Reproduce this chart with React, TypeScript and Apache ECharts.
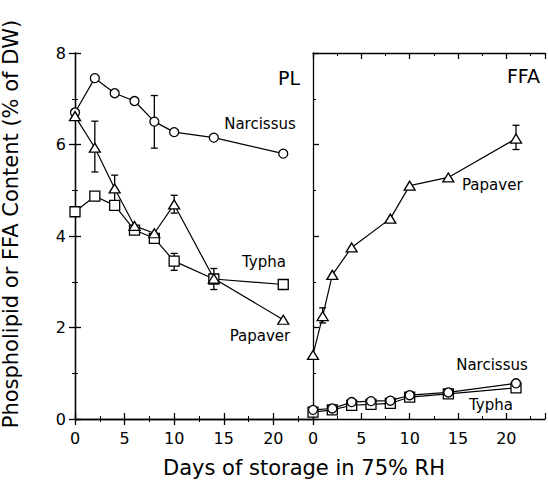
import React, { useEffect, useRef } from "react";
import * as echarts from "echarts";

// ---- Data ----
const plDays = [0, 2, 4, 6, 8, 10, 14, 21];
const plNarcissus = [6.7, 7.45, 7.12, 6.95, 6.5, 6.27, 6.15, 5.8];
const plPapaver = [6.62, 5.93, 5.04, 4.22, 4.06, 4.69, 3.07, 2.17];
const plTypha = [4.53, 4.87, 4.67, 4.13, 3.95, 3.45, 3.06, 2.94];

const ffaDays = [0, 2, 4, 6, 8, 10, 14, 21];
const ffaNarcissus = [0.2, 0.23, 0.37, 0.39, 0.4, 0.52, 0.58, 0.78];
const ffaTypha = [0.15, 0.2, 0.3, 0.32, 0.34, 0.48, 0.55, 0.68];
const ffaPapaverDays = [0, 1, 2, 4, 8, 10, 14, 21];
const ffaPapaver = [1.4, 2.25, 3.15, 3.75, 4.38, 5.1, 5.28, 6.13];

// error bars: [day, low, high]
const plErrors = [
  [8, 5.92, 7.07],
  [2, 5.4, 6.51],
  [4, 4.75, 5.33],
  [10, 4.5, 4.89],
  [14, 2.83, 3.29],
  [10, 3.25, 3.62],
];
const ffaErrors = [
  [21, 5.89, 6.42],
  [1, 2.1, 2.43],
];

const xTicks = [0, 5, 10, 15, 20];
const yTicks = [0, 2, 4, 6, 8];

const FONT = "DejaVu Sans";

function pairs(xs: number[], ys: number[]) {
  return xs.map((x, i) => [x, ys[i]]);
}

export default function App() {
  const ref = useRef<HTMLDivElement>(null);
  useEffect(() => {
    if (!ref.current) return;
    const chart = echarts.init(ref.current, undefined, { renderer: "svg" });
    const lineW = 1.3;
    const axisLine = { show: true, lineStyle: { color: "#000", width: lineW } };
    const xBase = (gridIndex: number, position: string, labels: boolean) => ({
      type: "value",
      gridIndex,
      position,
      min: xTicks[0],
      max: 24,
      interval: xTicks[1] - xTicks[0],
      axisLine,
      axisTick: { show: true, inside: true, length: 6, lineStyle: { color: "#000", width: lineW } },
      minorTick: { show: true, splitNumber: 2, length: 3, lineStyle: { color: "#000", width: 1 } },
      splitLine: { show: false },
      axisLabel: {
        show: labels,
        color: "#000",
        fontFamily: FONT,
        fontSize: 16,
        margin: 11,
        formatter: (v: number) => (xTicks.includes(v) ? String(v) : ""),
      },
    });
    const yBase = (gridIndex: number, position: string, labels: boolean) => ({
      type: "value",
      gridIndex,
      position,
      min: yTicks[0],
      max: yTicks[yTicks.length - 1],
      interval: yTicks[1] - yTicks[0],
      axisLine,
      axisTick: { show: true, inside: true, length: 6, lineStyle: { color: "#000", width: lineW } },
      minorTick: { show: true, splitNumber: 2, length: 3, lineStyle: { color: "#000", width: 1 } },
      splitLine: { show: false },
      axisLabel: { show: labels, color: "#000", fontFamily: FONT, fontSize: 16, margin: 9 },
    });

    const lineSeries = (name: string, data: number[][], xi: number, yi: number, symbol: string, size: any) => ({
      type: "line",
      name,
      xAxisIndex: xi,
      yAxisIndex: yi,
      data,
      symbol,
      symbolSize: size,
      showAllSymbol: true,
      z: 3,
      lineStyle: { color: "#000", width: 1.2 },
      itemStyle: { color: "#fff", borderColor: "#000", borderWidth: 1.3 },
      emphasis: { disabled: true },
    });

    const errSeries = (data: number[][], xi: number, yi: number) => ({
      type: "custom",
      xAxisIndex: xi,
      yAxisIndex: yi,
      z: 1,
      data,
      renderItem: (params: any, api: any) => {
        const x = api.value(0);
        const lo = api.coord([x, api.value(1)]);
        const hi = api.coord([x, api.value(2)]);
        const w = 3.5;
        const st = { stroke: "#000", lineWidth: 1.3 };
        return {
          type: "group",
          children: [
            { type: "line", shape: { x1: lo[0], y1: lo[1], x2: hi[0], y2: hi[1] }, style: st },
            { type: "line", shape: { x1: lo[0] - w, y1: lo[1], x2: lo[0] + w, y2: lo[1] }, style: st },
            { type: "line", shape: { x1: hi[0] - w, y1: hi[1], x2: hi[0] + w, y2: hi[1] }, style: st },
          ],
        };
      },
    });

    const txt = (text: string, x: number, y: number, size: number, align = "center", rotation = 0) => ({
      type: "text",
      x,
      y,
      rotation,
      z: 10,
      style: {
        text,
        fill: "#000",
        font: `${size}px "${FONT}"`,
        fontSize: size,
        fontFamily: FONT,
        align,
        verticalAlign: "middle",
        textAlign: align,
        textVerticalAlign: "middle",
      },
    });

    chart.setOption({
      animation: false,
      backgroundColor: "#fff",
      grid: [
        { left: 75, top: 53, width: 238, height: 366 },
        { left: 313, top: 53, width: 239, height: 366 },
      ],
      xAxis: [
        xBase(0, "bottom", true),
        xBase(0, "top", false),
        xBase(1, "bottom", true),
        xBase(1, "top", false),
      ],
      yAxis: [
        yBase(0, "left", true),
        yBase(0, "right", false),
        yBase(1, "left", false),
      ],
      series: [
        errSeries(plErrors, 0, 0),
        errSeries(ffaErrors, 2, 2),
        lineSeries("Narcissus PL", pairs(plDays, plNarcissus), 0, 0, "circle", 9),
        lineSeries("Typha PL", pairs(plDays, plTypha), 0, 0, "rect", 10),
        lineSeries("Papaver PL", pairs(plDays, plPapaver), 0, 0, "triangle", [11, 9]),
        lineSeries("Typha FFA", pairs(ffaDays, ffaTypha), 2, 2, "rect", 10),
        lineSeries("Narcissus FFA", pairs(ffaDays, ffaNarcissus), 2, 2, "circle", 9),
        lineSeries("Papaver FFA", pairs(ffaPapaverDays, ffaPapaver), 2, 2, "triangle", [11, 9]),
      ],
      graphic: [
        txt("PL", 300, 78, 19, "right"),
        txt("FFA", 540, 76, 19, "right"),
        txt("Narcissus", 260, 124, 15),
        txt("Typha", 264, 262, 15),
        txt("Papaver", 260, 336, 15),
        txt("Papaver", 462, 185, 15, "left"),
        txt("Narcissus", 492, 365, 15),
        txt("Typha", 491, 405, 15),
        txt("Days of storage in 75% RH", 304, 468, 21),
        txt("Phospholipid or FFA Content (% of DW)", 11, 224, 21, "center", Math.PI / 2),
      ],
    });
    return () => chart.dispose();
  }, []);
  return (
    <div
      ref={ref}
      style={{ position: "absolute", left: 0, top: 0, width: 548, height: 480, background: "#fff" }}
    />
  );
}
